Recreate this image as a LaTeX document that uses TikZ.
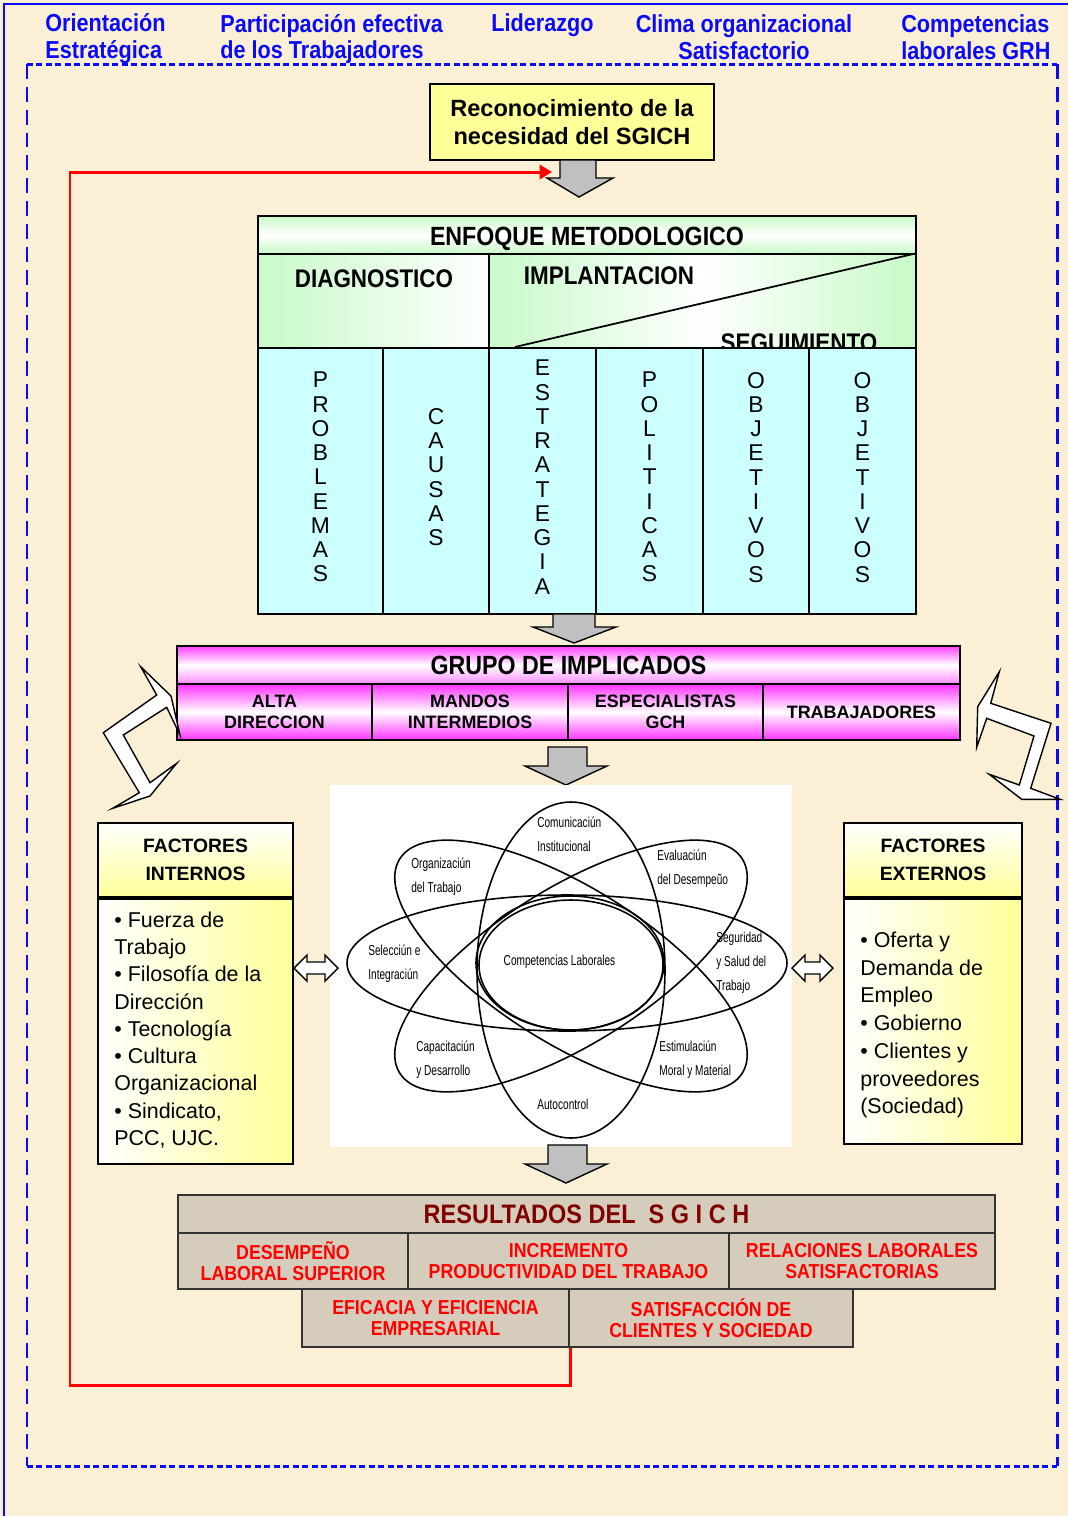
\documentclass[tikz,border=0pt]{standalone}
\usepackage{fontspec}
\setmainfont{Liberation Sans}
\newfontfamily\estrecha[FakeStretch=0.88]{Liberation Sans}
\newfontfamily\muyestrecha[FakeStretch=0.7]{Liberation Sans}
\usetikzlibrary{arrows.meta}

\definecolor{fondo}{RGB}{251,240,214}
\definecolor{azul}{RGB}{10,10,250}
\definecolor{amarillo}{RGB}{255,255,153}
\definecolor{verdeclaro}{RGB}{200,250,200}
\definecolor{cian}{RGB}{204,255,255}
\definecolor{gris}{RGB}{192,192,192}
\definecolor{papel}{RGB}{214,204,188}
\definecolor{rojo}{RGB}{255,0,0}
\definecolor{granate}{RGB}{128,0,0}

\tikzset{
  caja/.style={draw, line width=1pt, inner sep=0pt, align=center},
  eje/.style={text=azul, inner sep=0pt, font=\estrecha\bfseries\fontsize{14}{15.3}\selectfont},
  fase/.style={inner sep=0pt, font=\estrecha\bfseries\fontsize{14.5}{16}\selectfont},
  columna/.style={caja, fill=cian, minimum height=5.32cm, text depth=4.5pt, font=\fontsize{13}{13.8}\selectfont},
  implicado/.style={caja, top color=magenta!80, bottom color=magenta!80, middle color=white,
    minimum height=1.12cm, font=\bfseries\fontsize{10.2}{11.9}\selectfont},
  factor/.style={caja, top color=white, bottom color=amarillo, minimum height=1.48cm,
    font=\bfseries\fontsize{11}{15.9}\selectfont},
  lista/.style={inner sep=0pt, align=left, anchor=west},
  etiq/.style={inner sep=0pt, align=left, anchor=west, font=\muyestrecha\fontsize{8.2}{13.6}\selectfont},
  resultado/.style={caja, draw=black!80, line width=1.2pt, fill=papel, text=rojo,
    font=\estrecha\bfseries\fontsize{11.5}{12}\selectfont},
  flechagris/.style={draw, fill=gris, line width=0.8pt, line join=miter},
  blanca/.style={draw, fill=white, line width=0.8pt}
}

\begin{document}
\begin{tikzpicture}[x=0.02cm, y=-0.02cm]
\useasboundingbox (0,0) rectangle (1068,1516);
% Fondo y marcos
\fill[fondo] (0,0) rectangle (1068,1516);
\draw[azul, line width=0.6pt] (4,1516) -- (4,4) -- (1068,4);
\draw[azul, line width=1.7pt, dash pattern=on 3.4pt off 2pt] (27,64) -- (1057,64) (27,1466) -- (1057,1466);
\draw[azul, line width=1.7pt, dash pattern=on 8.5pt off 4.5pt] (27,64) -- (27,1466) (1057,64) -- (1057,1466);

% Ejes superiores
\node[eje, anchor=west, align=left] (orient) at (45,39) {Orientación\\Estratégica};
\node[eje, anchor=west, align=left] (partic) at (220,39) {Participación efectiva\\de los Trabajadores};
\node[eje, anchor=west] (lider) at (491,25) {Liderazgo};
\node[eje, align=center] (clima) at (744,37) {Clima organizacional\\Satisfactorio};
\node[eje, anchor=west, align=left] (compet) at (901,37) {Competencias\\laborales GRH};

% Reconocimiento
\node[caja, fill=amarillo, minimum width=5.68cm, minimum height=1.52cm,
  font=\bfseries\fontsize{13.4}{16.4}\selectfont] (recon) at (572,122) {Reconocimiento de la\\necesidad del SGICH};
\draw[flechagris] (560,160) -- (596,160) -- (596,178) -- (613,178) -- (579,197) -- (547,178) -- (560,178) -- cycle;

% Enfoque metodologico
\node[caja, top color=verdeclaro, bottom color=verdeclaro, middle color=white, minimum width=13.16cm,
  minimum height=0.76cm, text height=14.5pt, font=\estrecha\bfseries\fontsize{15}{16}\selectfont] (enfoque) at (587,235) {ENFOQUE METODOLOGICO};
\node[caja, left color=verdeclaro, right color=white, minimum width=4.62cm, minimum height=1.88cm] (diag) at (373.5,301) {};
\node[caja, left color=verdeclaro, right color=verdeclaro, middle color=white, minimum width=8.54cm,
  minimum height=1.88cm] (impl) at (702.5,301) {};
\node[fase] (tdiag) at (374,279) {DIAGNOSTICO};
\node[fase] (timpl) at (609,276) {IMPLANTACION};
\node[fase, anchor=base] (tseg) at (799,351) {SEGUIMIENTO};
\draw[line width=1pt] (515,347) -- (impl.north east);

% Columnas
\node[columna, minimum width=2.5cm] (c1) at (320.5,481) {P\\R\\O\\B\\L\\E\\M\\A\\S};
\node[columna, minimum width=2.12cm] (c2) at (436,481) {C\\A\\U\\S\\A\\S};
\node[columna, minimum width=2.14cm] (c3) at (542.5,481) {E\\S\\T\\R\\A\\T\\E\\G\\I\\A};
\node[columna, minimum width=2.14cm] (c4) at (649.5,481) {P\\O\\L\\I\\T\\I\\C\\A\\S};
\node[columna, minimum width=2.12cm] (c5) at (756,481) {O\\B\\J\\E\\T\\I\\V\\O\\S};
\node[columna, minimum width=2.14cm] (c6) at (862.5,481) {O\\B\\J\\E\\T\\I\\V\\O\\S};
\draw[flechagris] (553,614) -- (595,614) -- (595,627) -- (616,627) -- (574,643) -- (533,627) -- (553,627) -- cycle;

% Grupo de implicados
\node[caja, top color=magenta!75, bottom color=magenta!45, middle color=white, minimum width=15.66cm,
  minimum height=0.76cm, font=\estrecha\bfseries\fontsize{15}{16}\selectfont] (grupo) at (568.5,665) {GRUPO DE IMPLICADOS};
\node[implicado, minimum width=3.9cm] (alta) at (274.5,712) {ALTA\\DIRECCION};
\node[implicado, minimum width=3.92cm] (mandos) at (470,712) {MANDOS\\INTERMEDIOS};
\node[implicado, minimum width=3.9cm] (espec) at (665.5,712) {ESPECIALISTAS\\GCH};
\node[implicado, minimum width=3.94cm] (trab) at (861.5,712) {TRABAJADORES};
\draw[flechagris] (548,747) -- (587,747) -- (587,766) -- (607,766) -- (566,785) -- (525,766) -- (548,766) -- cycle;

% Flechas quebradas
\draw[blanca] (140.7,666.7) -- (171,696) -- (180,735) -- (166.7,707.3) -- (123.3,735) -- (150,782.7)
  -- (176.7,763.3) -- (150,796) -- (112.7,808.3) -- (139.3,792.7) -- (103.3,732.7) -- (156.7,695) -- cycle;
\draw[blanca] (999.3,671.7) -- (990.7,703.3) -- (1051,723.3) -- (1030.7,788.3) -- (1060,799.3) -- (1021.7,799.3)
  -- (989.3,774.3) -- (1019.3,785) -- (1034,736) -- (986.7,718.3) -- (976.7,747.3) -- (977.7,706.7) -- cycle;

% Competencias laborales
\fill[white] (330,785) rectangle (792,1147);
\begin{scope}[line width=0.9pt]
  \draw (571,970) ellipse [x radius=94, y radius=168];
  \draw (567,963) ellipse [x radius=220, y radius=68];
  \draw[rotate around={-32:(571,966)}] (571,966) ellipse [x radius=202, y radius=78];
  \draw[rotate around={32:(571,966)}] (571,966) ellipse [x radius=202, y radius=78];
  \draw (571,965) ellipse [x radius=92, y radius=65];
  \draw (570,963) ellipse [x radius=94, y radius=67];
\end{scope}
\node[etiq] (comun) at (537,834) {Comunicaciún\\Institucional};
\node[etiq] (organ) at (411,877) {Organizaciún\\del Trabajo};
\node[etiq] (evalu) at (657,869) {Evaluaciún\\del Desempeũo};
\node[etiq] (selec) at (368,964) {Selecciún e\\Integraciún};
\node[etiq, anchor=center] (compl) at (559.5,962) {Competencias Laborales};
\node[etiq] (segur) at (716,963) {Seguridad\\y Salud del\\Trabajo};
\node[etiq] (capac) at (416,1060) {Capacitaciún\\y Desarrollo};
\node[etiq] (estim) at (659,1060) {Estimulaciún\\Moral y Material};
\node[etiq] (autoc) at (537,1104) {Autocontrol};

% Dobles flechas
\draw[blanca] (294,968) -- (307,955) -- (307,962) -- (325,962) -- (325,955) -- (338,968) -- (325,981)
  -- (325,974) -- (307,974) -- (307,981) -- cycle;
\draw[blanca] (792,968) -- (805,955) -- (805,962) -- (820,962) -- (820,955) -- (833,968) -- (820,981)
  -- (820,974) -- (805,974) -- (805,981) -- cycle;

% Factores
\node[factor, minimum width=3.9cm] (finth) at (195.5,860) {FACTORES\\INTERNOS};
\node[caja, left color=white, right color=amarillo, minimum width=3.9cm, minimum height=5.3cm] (fint) at (195.5,1031.5) {};
\node[lista, font=\fontsize{12.2}{15.5}\selectfont] (lint) at (114,1030) {• Fuerza de\\Trabajo\\• Filosofía de la\\Dirección\\• Tecnología\\• Cultura\\Organizacional\\• Sindicato,\\PCC, UJC.};
\node[factor, minimum width=3.56cm] (fexth) at (933,860) {FACTORES\\EXTERNOS};
\node[caja, left color=white, right color=amarillo, minimum width=3.56cm, minimum height=4.9cm] (fext) at (933,1021.5) {};
\node[lista, font=\fontsize{12.2}{15.8}\selectfont] (lext) at (860,1025) {• Oferta y\\Demanda de\\Empleo\\• Gobierno\\• Clientes y\\proveedores\\(Sociedad)};
\draw[flechagris] (548,1145) -- (587,1145) -- (587,1164) -- (607,1164) -- (566,1183) -- (525,1164) -- (548,1164) -- cycle;

% Resultados
\node[resultado, text=granate, minimum width=16.34cm, minimum height=0.76cm,
  font=\estrecha\bfseries\fontsize{15.2}{16}\selectfont] (res) at (586.5,1214) {RESULTADOS DEL \ S G I C H};
\node[resultado, minimum width=4.6cm, minimum height=1.12cm] (desemp) at (293,1261) {DESEMPEÑO\\LABORAL SUPERIOR};
\node[resultado, minimum width=6.42cm, minimum height=1.12cm] (increm) at (568.5,1261) {INCREMENTO\\PRODUCTIVIDAD DEL TRABAJO};
\node[resultado, minimum width=5.32cm, minimum height=1.12cm] (relac) at (862,1261) {RELACIONES LABORALES\\SATISFACTORIAS};
\node[resultado, minimum width=5.34cm, minimum height=1.16cm] (efic) at (435.5,1318) {EFICACIA Y EFICIENCIA\\EMPRESARIAL};
\node[resultado, minimum width=5.68cm, minimum height=1.16cm] (satisf) at (711,1318) {SATISFACCIÓN DE\\CLIENTES Y SOCIEDAD};

% Retroalimentacion
\coordinate (codo) at (70,172);
\coordinate (llegada) at (552,172);
\draw[rojo, line width=1.7pt, -{Triangle[length=7pt, width=8pt]}] (efic.south east) -- ++(0,37) -| (codo) -- (llegada);
\end{tikzpicture}
\end{document}
